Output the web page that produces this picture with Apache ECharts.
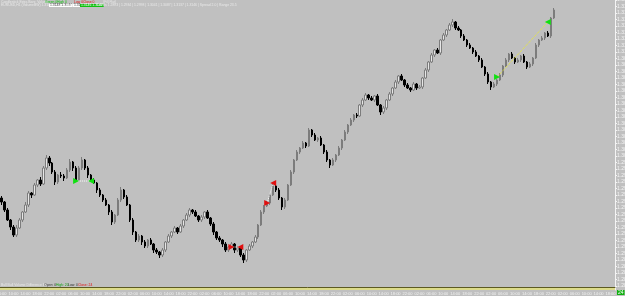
<!DOCTYPE html>
<html>
<head>
<meta charset="utf-8">
<script src="https://cdn.jsdelivr.net/npm/echarts@6/dist/echarts.min.js"></script>
<style>
html, body { margin: 0; padding: 0; background: #c0c0c0; }
#chart { width: 625px; height: 296px; }
</style>
</head>
<body>
<div id="chart"></div>
<script>
// hourly bars, open of each bar = close of the bar before
const firstOpen = 1.2958
const closes = [
  1.2954, 1.2946, 1.2936, 1.2929, 1.2921, 1.2928, 1.2936, 1.2944, 1.2951, 1.2963,
  1.2961, 1.2971, 1.2976, 1.2972, 1.2988, 1.2998, 1.2993, 1.2984, 1.2974, 1.2981,
  1.2980, 1.2978, 1.2986, 1.2994, 1.2988, 1.2976, 1.2988, 1.2996, 1.2988, 1.2981,
  1.2976, 1.2973, 1.2966, 1.2961, 1.2956, 1.2951, 1.2944, 1.2934, 1.2941, 1.2956,
  1.2966, 1.2959, 1.2951, 1.2936, 1.2924, 1.2916, 1.2920, 1.2914, 1.2910, 1.2916,
  1.2912, 1.2906, 1.2904, 1.2901, 1.2906, 1.2914, 1.2920, 1.2924, 1.2928, 1.2924,
  1.2930, 1.2936, 1.2941, 1.2946, 1.2944, 1.2940, 1.2936, 1.2939, 1.2944, 1.2938,
  1.2932, 1.2924, 1.2918, 1.2916, 1.2912, 1.2906, 1.2909, 1.2912, 1.2906, 1.2908,
  1.2901, 1.2896, 1.2906, 1.2910, 1.2914, 1.2919, 1.2931, 1.2944, 1.2950, 1.2953,
  1.2961, 1.2970, 1.2966, 1.2958, 1.2949, 1.2956, 1.2971, 1.2984, 1.2996, 1.3004,
  1.3008, 1.3013, 1.3010, 1.3026, 1.3021, 1.3016, 1.3018, 1.3011, 1.3004, 1.2996,
  1.2991, 1.2996, 1.3001, 1.3008, 1.3016, 1.3024, 1.3031, 1.3036, 1.3041, 1.3040,
  1.3051, 1.3056, 1.3061, 1.3058, 1.3056, 1.3060, 1.3051, 1.3044, 1.3048, 1.3056,
  1.3062, 1.3068, 1.3074, 1.3080, 1.3076, 1.3071, 1.3068, 1.3066, 1.3072, 1.3068,
  1.3069, 1.3078, 1.3086, 1.3094, 1.3101, 1.3106, 1.3103, 1.3116, 1.3121, 1.3126,
  1.3131, 1.3134, 1.3128, 1.3126, 1.3120, 1.3116, 1.3111, 1.3108, 1.3104, 1.3100,
  1.3096, 1.3089, 1.3082, 1.3074, 1.3069, 1.3072, 1.3076, 1.3081, 1.3090, 1.3096,
  1.3102, 1.3098, 1.3094, 1.3096, 1.3100, 1.3094, 1.3089, 1.3092, 1.3098, 1.3111,
  1.3116, 1.3118, 1.3123, 1.3120, 1.3138, 1.3146
]
const highs = [
  1.2960, 1.2955, 1.2948, 1.2937, 1.2931, 1.2931, 1.2938, 1.2945, 1.2954, 1.2965,
  1.2964, 1.2973, 1.2977, 1.2979, 1.2990, 1.3001, 1.3000, 1.2994, 1.2986, 1.2982,
  1.2984, 1.2982, 1.2988, 1.2997, 1.2995, 1.2990, 1.2990, 1.2999, 1.2997, 1.2990,
  1.2982, 1.2978, 1.2974, 1.2968, 1.2962, 1.2958, 1.2952, 1.2946, 1.2942, 1.2958,
  1.2969, 1.2967, 1.2961, 1.2952, 1.2938, 1.2925, 1.2922, 1.2921, 1.2916, 1.2917,
  1.2918, 1.2913, 1.2908, 1.2905, 1.2908, 1.2915, 1.2922, 1.2925, 1.2930, 1.2929,
  1.2932, 1.2937, 1.2943, 1.2948, 1.2947, 1.2946, 1.2941, 1.2941, 1.2945, 1.2946,
  1.2939, 1.2934, 1.2925, 1.2920, 1.2917, 1.2914, 1.2910, 1.2914, 1.2913, 1.2910,
  1.2909, 1.2903, 1.2907, 1.2912, 1.2915, 1.2921, 1.2932, 1.2946, 1.2951, 1.2955,
  1.2962, 1.2973, 1.2971, 1.2968, 1.2959, 1.2958, 1.2972, 1.2986, 1.2997, 1.3006,
  1.3009, 1.3015, 1.3014, 1.3028, 1.3027, 1.3023, 1.3019, 1.3020, 1.3012, 1.3006,
  1.2997, 1.2998, 1.3002, 1.3010, 1.3017, 1.3026, 1.3032, 1.3038, 1.3042, 1.3043,
  1.3052, 1.3058, 1.3063, 1.3062, 1.3060, 1.3061, 1.3062, 1.3052, 1.3050, 1.3057,
  1.3064, 1.3069, 1.3076, 1.3081, 1.3082, 1.3077, 1.3073, 1.3069, 1.3074, 1.3073,
  1.3071, 1.3079, 1.3088, 1.3095, 1.3103, 1.3107, 1.3108, 1.3117, 1.3123, 1.3127,
  1.3133, 1.3137, 1.3135, 1.3130, 1.3127, 1.3122, 1.3117, 1.3113, 1.3109, 1.3106,
  1.3101, 1.3098, 1.3090, 1.3084, 1.3075, 1.3074, 1.3077, 1.3083, 1.3091, 1.3098,
  1.3103, 1.3104, 1.3099, 1.3098, 1.3101, 1.3102, 1.3095, 1.3094, 1.3099, 1.3113,
  1.3117, 1.3120, 1.3124, 1.3125, 1.3139, 1.3148
]
const lows = [
  1.2951, 1.2944, 1.2935, 1.2926, 1.2919, 1.2919, 1.2927, 1.2934, 1.2943, 1.2949,
  1.2958, 1.2960, 1.2969, 1.2970, 1.2971, 1.2986, 1.2990, 1.2982, 1.2971, 1.2972,
  1.2978, 1.2975, 1.2977, 1.2984, 1.2985, 1.2974, 1.2975, 1.2986, 1.2986, 1.2978,
  1.2974, 1.2972, 1.2963, 1.2959, 1.2954, 1.2950, 1.2941, 1.2931, 1.2932, 1.2940,
  1.2954, 1.2957, 1.2950, 1.2934, 1.2921, 1.2914, 1.2914, 1.2911, 1.2908, 1.2908,
  1.2911, 1.2903, 1.2902, 1.2898, 1.2899, 1.2904, 1.2913, 1.2918, 1.2923, 1.2922,
  1.2923, 1.2928, 1.2935, 1.2939, 1.2942, 1.2939, 1.2934, 1.2934, 1.2937, 1.2937,
  1.2930, 1.2921, 1.2916, 1.2914, 1.2909, 1.2904, 1.2904, 1.2908, 1.2903, 1.2904,
  1.2899, 1.2893, 1.2894, 1.2905, 1.2908, 1.2913, 1.2917, 1.2930, 1.2942, 1.2949,
  1.2951, 1.2960, 1.2964, 1.2956, 1.2946, 1.2947, 1.2955, 1.2970, 1.2982, 1.2995,
  1.3002, 1.3007, 1.3008, 1.3009, 1.3019, 1.3015, 1.3014, 1.3010, 1.3002, 1.2994,
  1.2988, 1.2990, 1.2994, 1.3000, 1.3006, 1.3015, 1.3022, 1.3030, 1.3034, 1.3038,
  1.3039, 1.3049, 1.3055, 1.3056, 1.3055, 1.3054, 1.3050, 1.3041, 1.3042, 1.3046,
  1.3055, 1.3060, 1.3067, 1.3072, 1.3075, 1.3069, 1.3067, 1.3064, 1.3065, 1.3066,
  1.3067, 1.3067, 1.3077, 1.3084, 1.3093, 1.3099, 1.3102, 1.3101, 1.3115, 1.3119,
  1.3125, 1.3129, 1.3126, 1.3125, 1.3118, 1.3115, 1.3109, 1.3107, 1.3102, 1.3099,
  1.3094, 1.3088, 1.3080, 1.3072, 1.3066, 1.3068, 1.3070, 1.3075, 1.3079, 1.3089,
  1.3094, 1.3097, 1.3092, 1.3093, 1.3094, 1.3093, 1.3087, 1.3088, 1.3090, 1.3097,
  1.3109, 1.3115, 1.3116, 1.3119, 1.3118, 1.3137
]
const emptySlots = 20

// pattern arrows: [bar index, price]
const greenLeft = [[25, 1.2975], [30, 1.2975]]
const redLow = [[77, 1.2909], [80, 1.2909]]
const redHigh = [[89, 1.2953], [91, 1.2973]]
const greenRight = [[166, 1.3079], [183, 1.3134]]

const priceMin = 1.2870
const priceMax = 1.3156
const priceStep = 0.00065

const indicatorValue = '24'

const categories = []
for (let i = 0; i < closes.length + emptySlots; i++) {
  const h = (6 + i) % 24
  categories.push((h < 10 ? '0' : '') + h + ':00')
}
const ohlc = closes.map((c, i) => [i ? closes[i - 1] : firstOpen, c, lows[i], highs[i]])

const arrowSeries = (pts, color, lineColor) => ({
  type: 'line',
  xAxisIndex: 0,
  yAxisIndex: 0,
  data: pts.map((p, k) => ({ value: p, symbolRotate: k === 0 ? -90 : 90 })),
  symbol: 'triangle',
  symbolSize: 6,
  showSymbol: true,
  showAllSymbol: true,
  itemStyle: { color: color },
  lineStyle: { color: lineColor, width: 1, type: 'dotted' },
  silent: true,
  z: 10
})

const chart = echarts.init(document.getElementById('chart'))
const font = 'Liberation Sans'
const txt = (x, y, text, fill, bg) => ({
  type: 'text', x: x, y: y, silent: true,
  style: { text: text, fill: fill, font: '3.4px "Liberation Sans"', backgroundColor: bg, padding: bg ? [0, 1] : 0 }
})

chart.setOption({
  animation: false,
  backgroundColor: '#c0c0c0',
  textStyle: { fontFamily: font },
  grid: [
    { left: 0, right: 10, top: 0, height: 286, outerBoundsMode: 'none', containLabel: false },
    { left: 0, right: 10, top: 287, height: 3, show: true, backgroundColor: '#dcdb8a', borderWidth: 0, outerBoundsMode: 'none', containLabel: false }
  ],
  xAxis: [
    { type: 'category', gridIndex: 0, data: categories, show: false },
    {
      type: 'category', gridIndex: 1, data: categories,
      axisLine: { show: false }, axisTick: { show: false },
      axisLabel: { interval: 3, fontSize: 4, color: '#f2f2f2', margin: 2 }
    },
    {
      type: 'category', gridIndex: 1, data: categories, position: 'top',
      axisLine: { lineStyle: { color: '#5c5a22', width: 1 } },
      axisTick: { show: false }, axisLabel: { show: false }
    }
  ],
  yAxis: [
    {
      type: 'value', gridIndex: 0, position: 'right',
      min: priceMin, max: priceMax, interval: priceStep,
      axisLine: { show: true, lineStyle: { color: '#f4f4f4', width: 1 } },
      axisTick: { show: true, length: 2, lineStyle: { color: '#f4f4f4' } },
      axisLabel: { color: '#f4f4f4', fontSize: 5, margin: 2, formatter: v => v.toFixed(4) },
      splitLine: { show: false }
    },
    {
      type: 'value', gridIndex: 1, position: 'right', min: 0, max: 1,
      axisLine: { show: true, lineStyle: { color: '#f4f4f4', width: 1 } },
      axisTick: { show: false }, axisLabel: { show: false }, splitLine: { show: false }
    }
  ],
  series: [
    {
      type: 'candlestick',
      xAxisIndex: 0,
      yAxisIndex: 0,
      data: ohlc,
      barWidth: 2,
      itemStyle: {
        color: '#e6e6e6',
        color0: '#000000',
        borderColor: '#7c7c7c',
        borderColor0: '#000000',
        borderWidth: 1
      },
      markLine: {
        silent: true,
        symbol: 'none',
        lineStyle: { opacity: 0 },
        data: [{ yAxis: closes[closes.length - 1] }],
        label: {
          position: 'end', distance: 2,
          formatter: p => p.value.toFixed(4),
          backgroundColor: '#ffffff', color: '#000000', fontSize: 5, padding: [0, 1]
        }
      }
    },
    arrowSeries(greenLeft, '#10e010', '#ffffff'),
    arrowSeries(redLow, '#e01010', '#ffffff'),
    arrowSeries(redHigh, '#e01010', '#ffffff'),
    arrowSeries(greenRight, '#10e010', '#f0f020')
  ],
  graphic: [
    txt(1, 0.5, 'Candlestick Extra Bars: Volume:', '#e8e8e8'),
    txt(45, 0.5, 'Green 0', '#10c010'),
    txt(57, 0.5, 'High 0', '#10c010'),
    txt(74, 0.5, 'Low 0', '#e01010'),
    txt(83, 0.5, 'Close 0', '#e01010'),
    txt(103, 0.5, '(Fill Flat)', '#e8e8e8'),
    txt(1, 4, 'EURUSD,H1 (VolumeBW) 1.3146', '#e8e8e8'),
    txt(49, 4, '1.3148 1.3137', '#404040', '#ffffff'),
    txt(63, 4, '1.3146', '#e8e8e8'),
    txt(73, 4, '1.31', '#404040', '#ffffff'),
    txt(80, 4, '1.3146 1.3147', '#ffffff', '#10c010'),
    txt(97, 4, 'Levels 1.2893 | 1.2934 | 1.2998 | 1.3041 | 1.3087 | 1.3137 | 1.3146 | Spread 2.0 | Range 23.5', '#e8e8e8'),
    txt(1, 283.5, 'Bull Bull Volume Difference Bars', '#e8e8e8'),
    txt(44, 283.5, 'Open: 0', '#303030'),
    txt(56, 283.5, 'High: 20', '#10a010'),
    txt(68, 283.5, 'Low: 0', '#303030'),
    txt(78, 283.5, 'Close: 24', '#e01010'),
    {
      type: 'text', x: 617, y: 290, silent: true,
      style: { text: indicatorValue, fill: '#ffffff', font: '5px "Liberation Sans"', backgroundColor: '#10b010', padding: [0, 1] }
    }
  ]
})
</script>
</body>
</html>
